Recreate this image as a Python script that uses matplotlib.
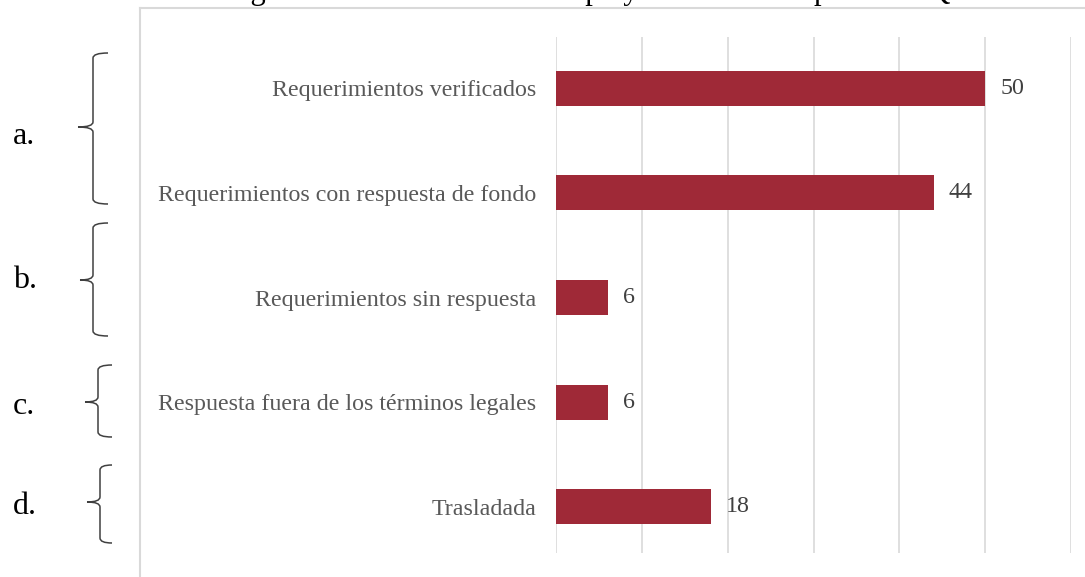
import matplotlib

matplotlib.use("Agg")  # no display
import matplotlib.pyplot as plt
from matplotlib.path import Path
from matplotlib.patches import PathPatch
from matplotlib.lines import Line2D

# data
categories = [
    "Requerimientos verificados",
    "Requerimientos con respuesta de fondo",
    "Requerimientos sin respuesta",
    "Respuesta fuera de los términos legales",
    "Trasladada",
]
values = [50, 44, 6, 6, 18]
group_labels = ["a.", "b.", "c.", "d."]
x_ticks = [0, 10, 20, 30, 40, 50, 60]
title = "Figura 11. Validación en tiempo y calidad de respuestas PQRS"

W, H = 1085, 577
plt.rcParams["font.family"] = ["Liberation Serif", "DejaVu Serif"]

fig = plt.figure(figsize=(W / 100, H / 100), dpi=100)
fig.patch.set_facecolor("white")


def px(x, y):
    """pixel coords (top-left origin) -> figure fraction"""
    return x / W, 1 - y / H


# outer chart frame (only left and top edges are visible)
frame_col = "#d9d9d9"
fig.add_artist(Line2D([140 / W, 140 / W], [-0.1, 1 - 8 / H], color=frame_col, lw=1.5,
                      transform=fig.transFigure))
fig.add_artist(Line2D([140 / W, 1.1], [1 - 8 / H, 1 - 8 / H], color=frame_col, lw=1.5,
                      transform=fig.transFigure))

# title sits mostly above the page, only its lower edge shows (as in the source)
fig.text(606 / W, 1 + 1 / H, title, ha="center", va="baseline", fontsize=22, color="black")

ax = fig.add_axes([556 / W, 1 - 553 / H, (1071 - 556) / W, (553 - 37) / H])
ypos = list(range(len(categories)))
ax.barh(ypos, values, height=0.335, color="#9F2937", zorder=3)
ax.set_xlim(0, 60)
ax.set_ylim(4.44, -0.49)
ax.set_xticks(x_ticks)
ax.tick_params(axis="x", length=0, labelbottom=False)
ax.grid(axis="x", color="#d9d9d9", lw=1.2, zorder=0)
ax.set_yticks(ypos)
ax.set_yticklabels(categories, fontsize=17.3, color="#595959")
ax.tick_params(axis="y", length=0, pad=14)
for s in ax.spines.values():
    s.set_visible(False)

for y, v in zip(ypos, values):
    ax.annotate(str(v), (v, y), xytext=(11, 0), textcoords="offset points",
                ha="left", va="center", fontsize=17.3, color="#404040")


def brace(top, bottom, tip, x_tip, x_vert, x_end, r=5):
    pts = [
        (x_end, top), (x_vert, top), (x_vert, top + r),
        (x_vert, tip - r), (x_vert, tip), (x_tip, tip),
        (x_vert, tip), (x_vert, tip + r),
        (x_vert, bottom - r), (x_vert, bottom), (x_end, bottom),
    ]
    codes = [Path.MOVETO, Path.CURVE3, Path.CURVE3,
             Path.LINETO, Path.CURVE3, Path.CURVE3,
             Path.CURVE3, Path.CURVE3,
             Path.LINETO, Path.CURVE3, Path.CURVE3]
    verts = [px(x, y) for x, y in pts]
    fig.add_artist(PathPatch(Path(verts, codes), fill=False, edgecolor="#404040",
                             lw=1.1, transform=fig.transFigure))


# left-hand group braces and letters
braces = [
    (53, 204, 127, 78, 93, 108),
    (223, 336, 280, 80, 93, 108),
    (365, 437, 402, 85, 98, 112),
    (465, 543, 502, 87, 100, 112),
]
label_y = [137, 280, 406, 506]
for b, lab, ly in zip(braces, group_labels, label_y):
    brace(*b)
    fx, fy = px(13, ly)
    fig.text(fx, fy, lab, ha="left", va="center", fontsize=23, color="black")

fig.savefig("out.png", dpi=100, facecolor="white")
